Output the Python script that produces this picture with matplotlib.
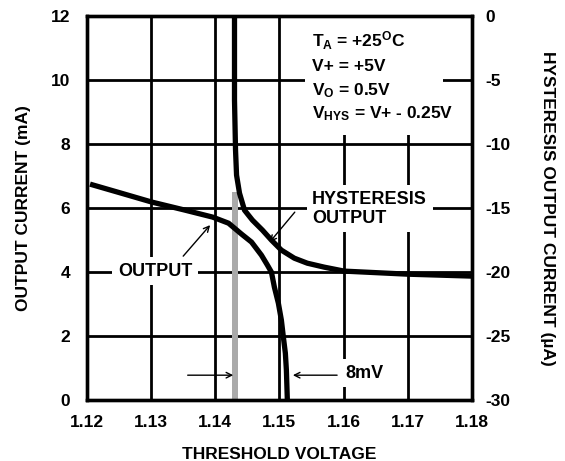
import matplotlib
matplotlib.use("Agg")
import matplotlib.pyplot as plt
from matplotlib.patches import Rectangle

plt.rcParams['font.family'] = ['Liberation Sans', 'DejaVu Sans']
plt.rcParams['font.weight'] = 'bold'
plt.rcParams['axes.labelweight'] = 'bold'
plt.rcParams['axes.unicode_minus'] = False
plt.rcParams['mathtext.fontset'] = 'custom'
plt.rcParams['mathtext.rm'] = 'Liberation Sans:bold'
plt.rcParams['mathtext.bf'] = 'Liberation Sans:bold'
plt.rcParams['mathtext.it'] = 'Liberation Sans:bold'

# output current (mA) vs threshold voltage (V)
out_v = [1.12047, 1.12513, 1.13010, 1.13523, 1.13959, 1.14207, 1.14409, 1.14565,
         1.14720, 1.14813, 1.14876, 1.14922, 1.14984, 1.15031, 1.15062, 1.15093,
         1.15109, 1.15124]
out_ma = [6.75, 6.48, 6.19, 5.94, 5.72, 5.53, 5.19, 4.94,
          4.53, 4.22, 4.0, 3.53, 3.03, 2.5, 1.97, 1.47,
          0.94, 0.0]

# hysteresis output current (uA) vs threshold voltage (V)
hys_v = [1.14300, 1.14300, 1.14316, 1.14332, 1.14378, 1.14456, 1.14580, 1.14736,
         1.14876, 1.15031, 1.15233, 1.15435, 1.15699, 1.16010, 1.17005, 1.18]
hys_ua = [-0.1, -6.56, -10.47, -12.42, -13.83, -15.16, -15.94, -16.72,
          -17.5, -18.28, -18.91, -19.30, -19.61, -19.92, -20.16, -20.31]

# gray marker bar at the trip point
bar_v = 1.1431
bar_ma = 6.5

x_ticks = [1.12, 1.13, 1.14, 1.15, 1.16, 1.17, 1.18]
y_ticks = [0, 2, 4, 6, 8, 10, 12]
y2_ticks = [-30, -25, -20, -15, -10, -5, 0]

FS = 12.5

fig = plt.figure(figsize=(5.65, 4.61), dpi=100)
ax = fig.add_axes([0.154, 0.132, 0.681, 0.833])

ax.set_xlim(1.12, 1.18)
ax.set_ylim(0, 12)
ax.set_xticks(x_ticks)
ax.set_xticklabels(["%.2f" % v for v in x_ticks])
ax.set_yticks(y_ticks)
ax.grid(True, color='black', lw=2.0)
ax.tick_params(length=0, labelsize=FS, pad=11)
ax.tick_params(axis='y', pad=12)
for s in ax.spines.values():
	s.set_linewidth(2.4)

ax.set_xlabel("THRESHOLD VOLTAGE", fontsize=FS, labelpad=12)
ax.set_ylabel("OUTPUT CURRENT (mA)", fontsize=FS, labelpad=14)

ax.bar([bar_v], [bar_ma], width=0.001, color='#aaaaaa', zorder=2.5)

ax2 = ax.twinx()
ax2.set_ylim(-30, 0)
ax2.set_yticks(y2_ticks)
ax2.tick_params(length=0, labelsize=FS, pad=10)
for s in ax2.spines.values():
	s.set_linewidth(2.4)
ax2.set_ylabel("HYSTERESIS OUTPUT CURRENT (\u00b5A)", fontsize=FS, rotation=270, labelpad=32)

ax2.plot(hys_v, hys_ua, color='black', lw=3.8, solid_joinstyle='round', solid_capstyle='butt')
ax.plot(out_v, out_ma, color='black', lw=3.8, solid_joinstyle='round', solid_capstyle='butt', zorder=4)

# white background behind the conditions block
ax.add_patch(Rectangle((0.566, 0.69), 0.36, 0.305, transform=ax.transAxes,
	facecolor='white', edgecolor='none', zorder=2))
ax.text(1.1551, 11.03, r'T$_{A}$ = +25$^{O}$C', fontsize=FS, va='baseline', zorder=3)
ax.text(1.1551, 10.27, 'V+ = +5V', fontsize=FS, va='baseline', zorder=3)
ax.text(1.1551, 9.53, r'V$_{O}$ = 0.5V', fontsize=FS, va='baseline', zorder=3)
ax.text(1.1551, 8.81, r'V$_{HYS}$ = V+ - 0.25V', fontsize=FS, va='baseline', zorder=3)

box = dict(facecolor='white', edgecolor='none', pad=4)
ax.text(1.1551, 5.98, "HYSTERESIS\nOUTPUT", fontsize=13, va='center', ha='left',
	linespacing=1.15, bbox=box, zorder=3)
ax.text(1.1306, 4.03, "OUTPUT", fontsize=13, va='center', ha='center', bbox=box, zorder=3)
ax.text(1.1632, 0.84, "8mV", fontsize=13, va='center', ha='center', bbox=box, zorder=3)

arr = dict(arrowstyle='->', color='black', lw=1, shrinkA=0, shrinkB=0)
ax.annotate("", xy=(1.1428, 0.78), xytext=(1.1357, 0.78), arrowprops=arr, zorder=5)
ax.annotate("", xy=(1.1521, 0.78), xytext=(1.1590, 0.78), arrowprops=arr, zorder=5)
ax.annotate("", xy=(1.1485, 4.94), xytext=(1.1524, 5.875), arrowprops=arr, zorder=5)
ax.annotate("", xy=(1.1392, 5.47), xytext=(1.1350, 4.5), arrowprops=arr, zorder=5)

fig.savefig("out.png", dpi=100)
